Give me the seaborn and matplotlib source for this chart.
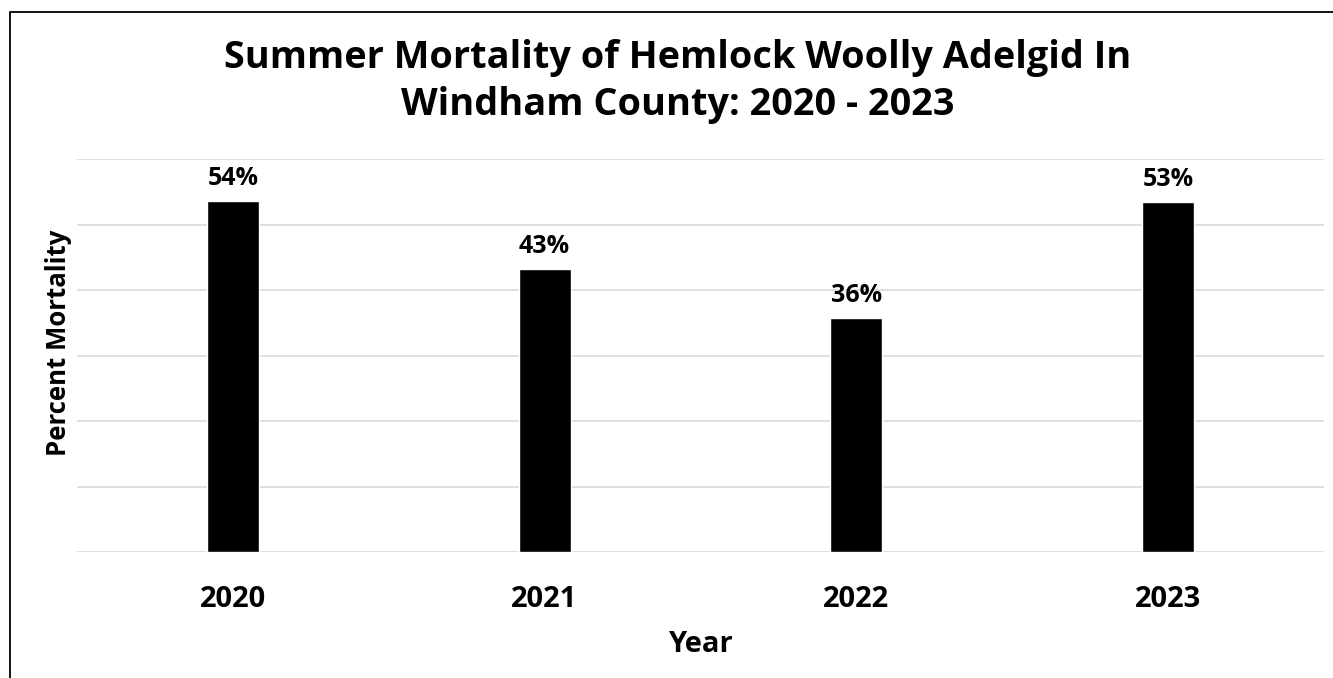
import matplotlib
matplotlib.use("Agg")
import matplotlib.pyplot as plt
import seaborn as sns
import pandas as pd
from matplotlib.patches import Rectangle

years = ["2020", "2021", "2022", "2023"]
mortality = [53.6, 43.2, 35.7, 53.4]
title = "Summer Mortality of Hemlock Woolly Adelgid In\nWindham County: 2020 - 2023"

sns.set_theme(style="white")
plt.rcParams["font.family"] = ["Open Sans", "DejaVu Sans"]
plt.rcParams["text.color"] = "black"
plt.rcParams["xtick.color"] = "black"
plt.rcParams["axes.labelcolor"] = "black"

df = pd.DataFrame({"Year": years, "Mortality": mortality})

W, H = 1333, 678
fig = plt.figure(figsize=(W / 100, H / 100), dpi=100)
ax = fig.add_axes([77 / W, 1 - 552 / H, (1324 - 77) / W, (552 - 159) / H])

sns.barplot(data=df, x="Year", y="Mortality", color="black", width=0.167,
            saturation=1, ax=ax, zorder=3)

ax.set_ylim(0, 60)
ax.set_yticks(range(0, 61, 10))
ax.yaxis.grid(True, color="#d9d9d9", linewidth=1.2, zorder=0)
ax.set_axisbelow(True)
ax.tick_params(axis="y", left=False, labelleft=False)
ax.tick_params(axis="x", bottom=False, pad=17.5, labelsize=21, labelcolor="black")
for lbl in ax.get_xticklabels():
    lbl.set_fontweight("bold")
for s in ax.spines.values():
    s.set_visible(False)

ax.set_xlabel("Year", fontsize=21, fontweight="bold", labelpad=12, color="black")
ax.set_ylabel("Percent Mortality", fontsize=18.5, fontweight="bold", color="black")
ax.yaxis.set_label_coords(-0.004, 0.532)

for i, v in enumerate(mortality):
    ax.annotate(f"{v:.0f}%", (i, v), xytext=(0, 7.5), textcoords="offset points",
                ha="center", va="bottom", fontsize=18, fontweight="bold",
                color="black")

fig.text(678 / W, 1 - 39 / H, title, ha="center", va="top", fontsize=27.3,
         fontweight="bold", linespacing=1.32, color="black")

fig.patches.append(Rectangle((9.5 / W, -0.1), 1.2, 1 - 11.5 / H + 0.1,
                             transform=fig.transFigure, fill=False,
                             edgecolor="black", linewidth=1.3, zorder=10))

fig.savefig("out.png", dpi=100, facecolor="white")
